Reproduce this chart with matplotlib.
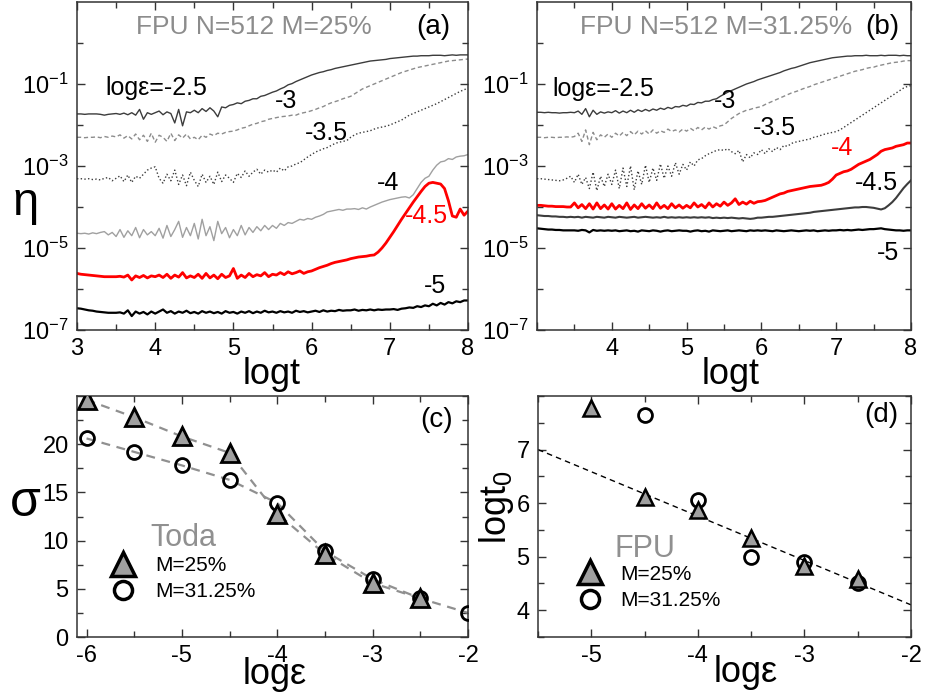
import numpy as np
import matplotlib
matplotlib.use("Agg")
import matplotlib.pyplot as plt
from matplotlib.lines import Line2D
from matplotlib.ticker import MultipleLocator, FixedLocator, NullFormatter

plt.rcParams['font.family'] = ['Liberation Sans', 'DejaVu Sans']
plt.rcParams['mathtext.fontset'] = 'custom'
plt.rcParams['mathtext.rm'] = 'Liberation Sans'
plt.rcParams['mathtext.it'] = 'Liberation Sans:italic'
plt.rcParams['axes.unicode_minus'] = False

# ---------------- data (log10 eta, sampled every 0.05 in logt from 3 to 8) ----------------
logt = np.round(np.arange(3.0, 8.0001, 0.05), 2)

# panel (a): FPU N=512 M=25%
a_m25 = [-1.73, -1.73, -1.74, -1.73, -1.73, -1.73, -1.74, -1.76, -1.74, -1.73,
         -1.72, -1.74, -1.71, -1.75, -1.70, -1.76, -1.62, -1.86, -1.70, -1.74,
         -1.70, -1.66, -1.75, -1.68, -1.72, -1.95, -1.62, -2.02, -1.68, -1.70,
         -1.64, -1.70, -1.60, -1.67, -1.58, -1.66, -1.80, -1.56, -1.58, -1.52,
         -1.50, -1.46, -1.48, -1.42, -1.40, -1.36, -1.36, -1.30, -1.28, -1.24,
         -1.20, -1.17, -1.12, -1.08, -1.02, -0.99, -0.94, -0.90, -0.86, -0.82,
         -0.78, -0.75, -0.72, -0.70, -0.67, -0.65, -0.62, -0.60, -0.58, -0.56,
         -0.54, -0.52, -0.50, -0.48, -0.46, -0.44, -0.43, -0.42, -0.41, -0.40,
         -0.38, -0.37, -0.36, -0.35, -0.34, -0.33, -0.32, -0.32, -0.31, -0.31,
         -0.31, -0.30, -0.30, -0.30, -0.31, -0.30, -0.29, -0.30, -0.29, -0.29,
         -0.29]
a_m3 = [-2.30, -2.30, -2.31, -2.30, -2.30, -2.29, -2.31, -2.28, -2.30, -2.27,
        -2.29, -2.24, -2.32, -2.26, -2.34, -2.22, -2.36, -2.25, -2.40, -2.20,
        -2.42, -2.25, -2.30, -2.40, -2.20, -2.38, -2.24, -2.32, -2.22, -2.34,
        -2.30, -2.36, -2.25, -2.30, -2.22, -2.26, -2.20, -2.22, -2.18, -2.16,
        -2.15, -2.12, -2.08, -2.06, -2.02, -1.98, -1.96, -1.92, -1.90, -1.86,
        -1.84, -1.82, -1.80, -1.79, -1.78, -1.76, -1.76, -1.72, -1.70, -1.68,
        -1.65, -1.62, -1.58, -1.55, -1.50, -1.46, -1.43, -1.40, -1.36, -1.33,
        -1.30, -1.24, -1.18, -1.12, -1.08, -1.04, -1.00, -0.96, -0.92, -0.88,
        -0.84, -0.80, -0.76, -0.72, -0.69, -0.66, -0.63, -0.60, -0.58, -0.56,
        -0.54, -0.52, -0.50, -0.48, -0.46, -0.44, -0.43, -0.42, -0.41, -0.40,
        -0.39]
a_m35 = [-3.31, -3.31, -3.32, -3.31, -3.33, -3.32, -3.34, -3.30, -3.28, -3.36,
         -3.30, -3.24, -3.38, -3.22, -3.40, -3.25, -3.30, -3.20, -3.10, -3.05,
         -3.02, -3.30, -3.42, -3.20, -3.36, -3.10, -3.45, -3.22, -3.48, -3.15,
         -3.35, -3.50, -3.20, -3.40, -3.25, -3.45, -3.15, -3.38, -3.22, -3.30,
         -3.40, -3.18, -3.28, -3.12, -3.25, -3.15, -3.08, -3.20, -3.10, -3.15,
         -3.10, -3.15, -3.05, -3.12, -3.02, -3.00, -2.95, -2.92, -2.85, -2.78,
         -2.72, -2.66, -2.62, -2.58, -2.55, -2.50, -2.45, -2.42, -2.40, -2.38,
         -2.30, -2.24, -2.20, -2.18, -2.16, -2.14, -2.10, -2.07, -2.05, -2.03,
         -2.00, -1.96, -1.92, -1.88, -1.82, -1.76, -1.72, -1.68, -1.64, -1.60,
         -1.56, -1.52, -1.48, -1.43, -1.38, -1.33, -1.28, -1.23, -1.18, -1.14,
         -1.10]
a_m4 = [-4.64, -4.65, -4.64, -4.66, -4.63, -4.65, -4.62, -4.60, -4.68, -4.62,
        -4.72, -4.55, -4.74, -4.58, -4.70, -4.50, -4.75, -4.55, -4.68, -4.60,
        -4.70, -4.52, -4.76, -4.45, -4.72, -4.55, -4.35, -4.74, -4.50, -4.70,
        -4.40, -4.78, -4.30, -4.70, -4.48, -4.82, -4.35, -4.65, -4.50, -4.75,
        -4.55, -4.70, -4.45, -4.68, -4.50, -4.62, -4.48, -4.58, -4.45, -4.55,
        -4.45, -4.52, -4.40, -4.45, -4.38, -4.40, -4.35, -4.30, -4.32, -4.28,
        -4.30, -4.25, -4.22, -4.18, -4.12, -4.10, -4.08, -4.06, -4.08, -4.05,
        -4.05, -4.04, -4.06, -4.02, -4.05, -4.00, -3.96, -3.92, -3.88, -3.85,
        -3.82, -3.80, -3.78, -3.76, -3.75, -3.78, -3.70, -3.55, -3.40, -3.30,
        -3.25, -3.10, -2.98, -2.90, -2.88, -2.82, -2.84, -2.78, -2.76, -2.75,
        -2.72]
a_m45 = [-5.62, -5.64, -5.65, -5.66, -5.67, -5.68, -5.69, -5.70, -5.70, -5.70,
         -5.70, -5.69, -5.71, -5.66, -5.78, -5.68, -5.72, -5.67, -5.73, -5.68,
         -5.70, -5.66, -5.72, -5.64, -5.74, -5.66, -5.71, -5.60, -5.73, -5.68,
         -5.72, -5.64, -5.74, -5.62, -5.73, -5.66, -5.75, -5.64, -5.72, -5.68,
         -5.50, -5.74, -5.66, -5.72, -5.62, -5.70, -5.65, -5.68, -5.60, -5.70,
         -5.64, -5.66, -5.60, -5.65, -5.58, -5.63, -5.60, -5.56, -5.62, -5.58,
         -5.56, -5.52, -5.48, -5.45, -5.42, -5.38, -5.35, -5.33, -5.31, -5.29,
         -5.26, -5.24, -5.22, -5.21, -5.20, -5.18, -5.17, -5.10, -5.00, -4.88,
         -4.74, -4.60, -4.45, -4.30, -4.16, -4.02, -3.88, -3.75, -3.62, -3.50,
         -3.42, -3.40, -3.42, -3.44, -3.55, -3.85, -4.22, -4.25, -4.05, -4.20,
         -4.10]
a_m5 = [-6.47, -6.48, -6.50, -6.52, -6.53, -6.55, -6.56, -6.57, -6.58, -6.58,
        -6.58, -6.57, -6.60, -6.52, -6.66, -6.55, -6.60, -6.56, -6.62, -6.55,
        -6.60, -6.55, -6.50, -6.58, -6.54, -6.60, -6.55, -6.58, -6.53, -6.59,
        -6.56, -6.60, -6.54, -6.58, -6.55, -6.59, -6.56, -6.60, -6.54, -6.58,
        -6.56, -6.60, -6.55, -6.58, -6.54, -6.59, -6.55, -6.58, -6.53, -6.57,
        -6.55, -6.58, -6.54, -6.57, -6.55, -6.58, -6.53, -6.56, -6.54, -6.57,
        -6.55, -6.53, -6.56, -6.52, -6.55, -6.53, -6.54, -6.51, -6.53, -6.52,
        -6.52, -6.50, -6.53, -6.51, -6.52, -6.50, -6.52, -6.50, -6.51, -6.50,
        -6.50, -6.49, -6.51, -6.48, -6.47, -6.45, -6.46, -6.42, -6.44, -6.40,
        -6.42, -6.36, -6.40, -6.34, -6.38, -6.32, -6.35, -6.30, -6.32, -6.28,
        -6.28]

# panel (b): FPU N=512 M=31.25%
b_m25 = [-1.69, -1.69, -1.70, -1.69, -1.70, -1.70, -1.71, -1.70, -1.70, -1.69,
         -1.70, -1.66, -1.74, -1.60, -1.80, -1.64, -1.74, -1.68, -1.71, -1.68,
         -1.70, -1.65, -1.71, -1.66, -1.70, -1.64, -1.69, -1.63, -1.67, -1.62,
         -1.66, -1.61, -1.64, -1.59, -1.62, -1.57, -1.60, -1.55, -1.56, -1.52,
         -1.54, -1.49, -1.50, -1.45, -1.46, -1.42, -1.42, -1.38, -1.36, -1.30,
         -1.25, -1.20, -1.16, -1.12, -1.08, -1.04, -1.00, -0.97, -0.94, -0.90,
         -0.87, -0.84, -0.81, -0.78, -0.75, -0.72, -0.68, -0.65, -0.62, -0.60,
         -0.57, -0.54, -0.51, -0.48, -0.46, -0.44, -0.42, -0.40, -0.38, -0.36,
         -0.35, -0.34, -0.33, -0.32, -0.32, -0.31, -0.31, -0.31, -0.30, -0.31,
         -0.31, -0.31, -0.30, -0.31, -0.30, -0.30, -0.30, -0.31, -0.30, -0.31,
         -0.31]
b_m3 = [-2.30, -2.30, -2.31, -2.30, -2.30, -2.31, -2.30, -2.30, -2.29, -2.30,
        -2.28, -2.20, -2.40, -2.12, -2.48, -2.18, -2.36, -2.24, -2.30, -2.22,
        -2.30, -2.20, -2.27, -2.18, -2.26, -2.16, -2.24, -2.15, -2.22, -2.14,
        -2.22, -2.12, -2.20, -2.14, -2.18, -2.10, -2.16, -2.12, -2.17, -2.10,
        -2.15, -2.08, -2.14, -2.06, -2.12, -2.05, -2.10, -2.04, -2.08, -2.02,
        -2.00, -1.92, -1.84, -1.78, -1.72, -1.68, -1.64, -1.62, -1.59, -1.57,
        -1.55, -1.50, -1.46, -1.42, -1.38, -1.34, -1.30, -1.26, -1.22, -1.19,
        -1.16, -1.12, -1.09, -1.06, -1.02, -0.99, -0.96, -0.93, -0.90, -0.87,
        -0.84, -0.81, -0.78, -0.75, -0.72, -0.69, -0.67, -0.65, -0.62, -0.60,
        -0.59, -0.56, -0.54, -0.52, -0.50, -0.48, -0.47, -0.46, -0.44, -0.43,
        -0.43]
b_m35 = [-3.31, -3.31, -3.32, -3.33, -3.34, -3.35, -3.36, -3.34, -3.30, -3.25,
         -3.40, -3.20, -3.45, -3.28, -3.55, -3.15, -3.60, -3.25, -3.50, -3.20,
         -3.45, -3.10, -3.55, -3.05, -3.50, -3.00, -3.58, -3.12, -3.45, -2.98,
         -3.40, -3.05, -3.35, -2.95, -3.30, -3.00, -3.25, -2.92, -3.20, -2.96,
         -3.10, -2.90, -3.00, -2.85, -2.82, -2.75, -2.70, -2.66, -2.62, -2.60,
         -2.62, -2.58, -2.65, -2.70, -2.62, -2.90, -2.72, -2.80, -2.68, -2.72,
         -2.60, -2.70, -2.58, -2.65, -2.55, -2.60, -2.50, -2.52, -2.45, -2.42,
         -2.40, -2.38, -2.36, -2.34, -2.30, -2.28, -2.25, -2.22, -2.20, -2.18,
         -2.16, -2.12, -2.06, -2.00, -1.94, -1.88, -1.82, -1.76, -1.70, -1.64,
         -1.58, -1.52, -1.46, -1.40, -1.34, -1.28, -1.22, -1.16, -1.10, -1.06,
         -1.04]
b_m4 = [-3.96, -3.96, -3.97, -3.98, -3.98, -3.99, -3.99, -3.99, -4.00, -4.00,
        -3.90, -4.02, -3.94, -4.04, -3.92, -4.05, -3.90, -4.04, -3.95, -4.05,
        -3.92, -4.05, -3.96, -4.04, -3.90, -4.06, -3.95, -4.04, -3.92, -4.03,
        -3.95, -4.04, -3.90, -4.03, -3.96, -4.04, -3.92, -4.02, -3.95, -4.03,
        -3.96, -4.02, -3.90, -4.00, -3.94, -4.02, -3.90, -4.00, -3.92, -3.98,
        -3.88, -3.96, -3.90, -3.80, -3.94, -3.88, -3.93, -3.86, -3.91, -3.87,
        -3.86, -3.84, -3.80, -3.76, -3.72, -3.68, -3.66, -3.62, -3.60, -3.58,
        -3.56, -3.54, -3.52, -3.50, -3.49, -3.48, -3.47, -3.44, -3.40, -3.32,
        -3.22, -3.18, -3.14, -3.12, -3.08, -3.02, -2.96, -2.92, -2.88, -2.84,
        -2.78, -2.72, -2.64, -2.60, -2.58, -2.56, -2.52, -2.50, -2.48, -2.44,
        -2.44]
b_m45 = [-4.20, -4.21, -4.22, -4.22, -4.23, -4.23, -4.24, -4.24, -4.25, -4.24,
         -4.25, -4.24, -4.26, -4.24, -4.25, -4.26, -4.24, -4.25, -4.26, -4.24,
         -4.25, -4.26, -4.24, -4.25, -4.26, -4.25, -4.24, -4.26, -4.25, -4.24,
         -4.25, -4.26, -4.25, -4.26, -4.24, -4.26, -4.25, -4.26, -4.25, -4.26,
         -4.25, -4.26, -4.25, -4.26, -4.25, -4.26, -4.25, -4.27, -4.26, -4.27,
         -4.26, -4.27, -4.26, -4.27, -4.28, -4.27, -4.28, -4.29, -4.28, -4.26,
         -4.26, -4.25, -4.24, -4.24, -4.23, -4.22, -4.21, -4.20, -4.19, -4.18,
         -4.17, -4.16, -4.15, -4.14, -4.12, -4.11, -4.10, -4.09, -4.08, -4.07,
         -4.06, -4.05, -4.04, -4.03, -4.02, -4.01, -4.01, -4.00, -4.00, -4.01,
         -4.02, -4.04, -4.06, -4.03, -3.96, -3.88, -3.78, -3.66, -3.54, -3.44,
         -3.35]
b_m5 = [-4.52, -4.53, -4.54, -4.55, -4.55, -4.56, -4.56, -4.57, -4.57, -4.57,
        -4.57, -4.58, -4.56, -4.57, -4.62, -4.56, -4.58, -4.57, -4.58, -4.57,
        -4.58, -4.57, -4.59, -4.58, -4.57, -4.59, -4.58, -4.60, -4.57, -4.58,
        -4.59, -4.57, -4.58, -4.60, -4.58, -4.57, -4.59, -4.58, -4.57, -4.58,
        -4.58, -4.60, -4.58, -4.57, -4.59, -4.58, -4.60, -4.57, -4.58, -4.59,
        -4.58, -4.57, -4.59, -4.58, -4.57, -4.58, -4.59, -4.57, -4.58, -4.57,
        -4.58, -4.57, -4.58, -4.59, -4.57, -4.58, -4.59, -4.58, -4.57, -4.58,
        -4.59, -4.58, -4.57, -4.58, -4.57, -4.59, -4.58, -4.57, -4.58, -4.57,
        -4.57, -4.56, -4.57, -4.56, -4.57, -4.56, -4.55, -4.56, -4.55, -4.54,
        -4.54, -4.53, -4.52, -4.54, -4.55, -4.56, -4.57, -4.57, -4.58, -4.57,
        -4.57]

# panel (c): Toda sigma vs log eps
c_eps_25 = [-6.0, -5.5, -5.0, -4.5, -4.0, -3.5, -3.0, -2.5]
c_sig_25 = [24.6, 22.8, 20.8, 19.1, 12.8, 8.6, 5.6, 4.0]
c_eps_31 = [-6.0, -5.5, -5.0, -4.5, -4.0, -3.5, -3.0, -2.5, -2.0]
c_sig_31 = [20.6, 19.2, 17.8, 16.3, 13.9, 8.9, 6.0, 4.0, 2.5]

# panel (d): FPU logt0 vs log eps
d_eps_25 = [-5.0, -4.5, -4.0, -3.5, -3.0, -2.5]
d_t0_25 = [7.77, 6.12, 5.88, 5.35, 4.82, 4.59]
d_eps_31 = [-4.5, -4.0, -3.5, -3.0, -2.5]
d_t0_31 = [7.65, 6.06, 5.00, 4.90, 4.50]
d_fit_eps = [-5.5, -2.0]
d_fit_t0 = [7.0, 4.1]

# ---------------- figure ----------------
W, H = 925, 700
fig = plt.figure(figsize=(W / 100, H / 100), dpi=100)


def box(l, t, r, b):
    return [l / W, 1 - b / H, (r - l) / W, (b - t) / H]


ax_a = fig.add_axes(box(77, 2, 468, 330))
ax_b = fig.add_axes(box(537, 2, 911, 330))
ax_c = fig.add_axes(box(77, 396, 468, 637))
ax_d = fig.add_axes(box(538, 396, 911, 637))


def style(ax):
    ax.tick_params(which='both', direction='in', top=True, right=True,
                   labelsize=17, pad=6, width=1, color='#333333')
    ax.tick_params(which='major', length=6)
    ax.tick_params(which='minor', length=4)
    for s in ax.spines.values():
        s.set_linewidth(1.1)
        s.set_color('#333333')


DARK = '#3c3c3c'
LIGHT = '#a0a0a0'
MID = '#8c8c8c'


def eta(v):
    return 10 ** np.array(v)


curves_a = [
    (a_m25, dict(color=DARK, lw=1.0, ls='-')),
    (a_m3, dict(color=MID, lw=1.0, ls=(0, (3, 2)))),
    (a_m35, dict(color=DARK, lw=1.0, ls=':')),
    (a_m4, dict(color=LIGHT, lw=1.0, ls='-')),
    (a_m45, dict(color='red', lw=2.0, ls='-')),
    (a_m5, dict(color='black', lw=1.6, ls='-')),
]
curves_b = [
    (b_m25, dict(color=DARK, lw=1.0, ls='-')),
    (b_m3, dict(color=MID, lw=1.0, ls=(0, (3, 2)))),
    (b_m35, dict(color=DARK, lw=1.0, ls=':')),
    (b_m4, dict(color='red', lw=2.0, ls='-')),
    (b_m45, dict(color=DARK, lw=1.5, ls='-')),
    (b_m5, dict(color='black', lw=1.6, ls='-')),
]

labels_a = [("logε=-2.5", 3.36, -1.10, 'black'), ("-3", 5.53, -1.42, 'black'),
            ("-3.5", 5.91, -2.19, 'black'), ("-4", 6.83, -3.41, 'black'),
            ("-4.5", 7.19, -4.22, 'red'), ("-5", 7.43, -5.92, 'black')]
labels_b = [("logε=-2.5", 3.21, -1.11, 'black'), ("-3", 5.37, -1.42, 'black'),
            ("-3.5", 5.89, -2.07, 'black'), ("-4", 6.93, -2.56, 'red'),
            ("-4.5", 7.25, -3.41, 'black'), ("-5", 7.54, -5.11, 'black')]

for ax, curves, labs, title, tx, tag, tagx in [
        (ax_a, curves_a, labels_a, "FPU N=512 M=25%", 5.26, "(a)", 7.34),
        (ax_b, curves_b, labels_b, "FPU N=512 M=31.25%", 5.39, "(b)", 7.39)]:
    for vals, kw in curves:
        ax.plot(logt, eta(vals), **kw)
    ax.set_yscale('log')
    ax.set_xlim(3, 8)
    ax.set_ylim(1e-7, 1e1)
    ax.yaxis.set_major_locator(FixedLocator([1e-7, 1e-5, 1e-3, 1e-1]))
    ax.yaxis.set_minor_locator(FixedLocator([1e-6, 1e-4, 1e-2, 1e0]))
    ax.yaxis.set_minor_formatter(NullFormatter())
    ax.xaxis.set_minor_locator(MultipleLocator(0.5))
    style(ax)
    for s, x, y, c in labs:
        ax.text(x, 10 ** y, s, color=c, fontsize=18, ha='left', va='center')
    ax.text(tx, 10 ** 0.38, title, color='#8c8c8c', fontsize=19, ha='center', va='center')
    ax.text(tagx, 10 ** 0.38, tag, color='black', fontsize=20, ha='left', va='center')

ax_a.set_xticks([3, 4, 5, 6, 7, 8])
ax_b.set_xticks([3, 4, 5, 6, 7, 8])
ax_b.set_xticklabels(['', '4', '5', '6', '7', '8'])

# panel (c)
ax_c.plot(c_eps_25, c_sig_25, color='#909090', lw=1.6, ls=(0, (4, 3)), zorder=2)
ax_c.plot(c_eps_31, c_sig_31, color='#909090', lw=1.6, ls=(0, (4, 3)), zorder=2)
ax_c.plot(c_eps_31, c_sig_31, ls='none', marker='o', ms=10, mfc='none', mec='black', mew=2, zorder=3)
ax_c.plot(c_eps_25, c_sig_25, ls='none', marker='^', ms=13, mfc='#a0a0a0', mec='black', mew=2, zorder=4)
ax_c.set_xlim(-6.1, -2)
ax_c.set_ylim(0, 25)
ax_c.xaxis.set_major_locator(MultipleLocator(1))
ax_c.xaxis.set_minor_locator(MultipleLocator(0.5))
ax_c.yaxis.set_major_locator(FixedLocator([0, 5, 10, 15, 20]))
ax_c.yaxis.set_minor_locator(MultipleLocator(2.5))
style(ax_c)
ax_c.text(0.92, 0.90, "(c)", transform=ax_c.transAxes, fontsize=20, ha='center', va='center')
ax_c.text(0.271, 0.41, "Toda", transform=ax_c.transAxes, fontsize=22, color='#909090',
          ha='center', va='center')

# panel (d)
ax_d.plot(d_fit_eps, d_fit_t0, color='black', lw=1.0, ls=(0, (4, 3)), zorder=2)
ax_d.plot(d_eps_31, d_t0_31, ls='none', marker='o', ms=10, mfc='none', mec='black', mew=2, zorder=3)
ax_d.plot(d_eps_25, d_t0_25, ls='none', marker='^', ms=12, mfc='#a0a0a0', mec='black', mew=1.8, zorder=4)
ax_d.set_xlim(-5.5, -2)
ax_d.set_ylim(3.5, 8)
ax_d.xaxis.set_major_locator(MultipleLocator(1))
ax_d.xaxis.set_minor_locator(MultipleLocator(0.5))
ax_d.yaxis.set_major_locator(FixedLocator([4, 5, 6, 7]))
ax_d.yaxis.set_minor_locator(MultipleLocator(0.5))
style(ax_d)
ax_d.text(0.92, 0.92, "(d)", transform=ax_d.transAxes, fontsize=20, ha='center', va='center')
ax_d.text(0.287, 0.365, "FPU", transform=ax_d.transAxes, fontsize=22, color='#909090',
          ha='center', va='center')

handles = [Line2D([], [], ls='none', marker='^', ms=17, mfc='#a0a0a0', mec='black', mew=2.5),
           Line2D([], [], ls='none', marker='o', ms=13, mfc='none', mec='black', mew=2.5)]
for ax, bx, by, pad in [(ax_c, 0.091, 0.336, 1.04), (ax_d, 0.112, 0.30, 0.94)]:
    ax.legend(handles, ["M=25%", "M=31.25%"], loc='upper left', bbox_to_anchor=(bx, by),
              frameon=False, fontsize=15, handlelength=1.0, handletextpad=pad,
              borderpad=0, borderaxespad=0, labelspacing=0.35)

# axis labels
fig.text(26 / W, 1 - 203 / H, "η", fontsize=34, ha='center', va='center')
fig.text(25 / W, 1 - 503 / H, "σ", fontsize=36, ha='center', va='center')
fig.text(497 / W, 1 - 507 / H, "logt$_0$", fontsize=26, ha='center', va='center', rotation=90)
fig.text(272 / W, 1 - 375 / H, "logt", fontsize=26, ha='center', va='center')
fig.text(731 / W, 1 - 375 / H, "logt", fontsize=26, ha='center', va='center')
fig.text(275 / W, 1 - 675 / H, "logε", fontsize=26, ha='center', va='center')
fig.text(746 / W, 1 - 672 / H, "logε", fontsize=26, ha='center', va='center')

fig.savefig("out.png", dpi=100)
